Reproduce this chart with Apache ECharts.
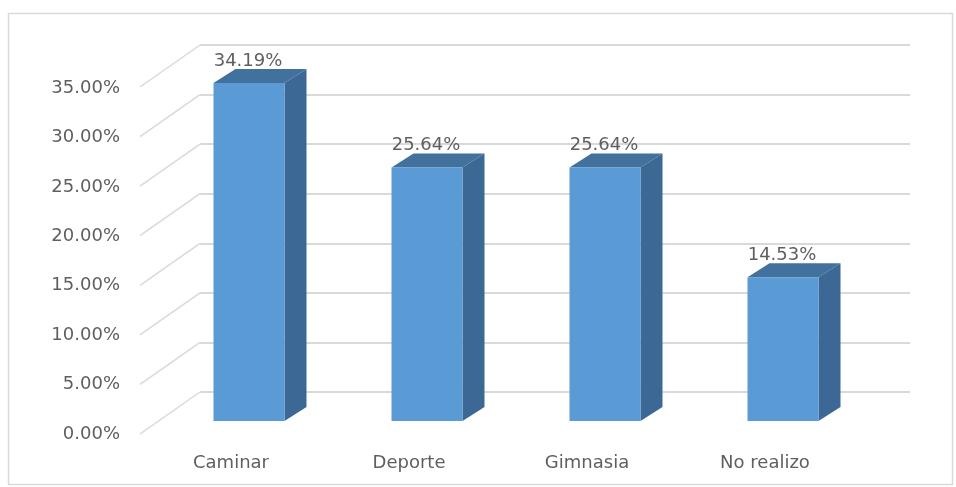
<!DOCTYPE html>
<html>
<head>
<meta charset="utf-8">
<script src="https://cdn.jsdelivr.net/npm/echarts@6/dist/echarts.min.js"></script>
<style>
  html, body { margin: 0; padding: 0; background: #ffffff; }
  #chart { width: 956px; height: 487px; }
</style>
</head>
<body>
<div id="chart"></div>
<script>
// Activity categories and their shares (percent)
const categories = ['Caminar', 'Deporte', 'Gimnasia', 'No realizo'];
const shares = [34.19, 25.64, 25.64, 14.53];
// Value-axis ticks
const ticks = [0, 5, 10, 15, 20, 25, 30, 35];

const FONT = 'DejaVu Sans';
const TEXT = '#5f5f5f';
const GRID = '#d9d9d9';
// depth offsets for the pseudo-3D look
const WALL_DX = 60, WALL_DY = -42;   // floor front edge -> back wall
const BAR_DX = 22, BAR_DY = -14;     // bar front face -> bar back face
const BAR_W = 71;

const chart = echarts.init(document.getElementById('chart'), null, { renderer: 'canvas' });

function renderBar(params, api) {
  const i = api.value(0);
  const v = api.value(1);
  const base = api.coord([i, 0]);
  const top = api.coord([i, v]);
  const x0 = base[0] - BAR_W / 2;
  const x1 = x0 + BAR_W;
  return {
    type: 'group',
    children: [
      {
        type: 'polygon',
        shape: { points: [[x1, top[1]], [x1 + BAR_DX, top[1] + BAR_DY], [x1 + BAR_DX, base[1] + BAR_DY], [x1, base[1]]] },
        style: { fill: '#3b6895' }
      },
      {
        type: 'polygon',
        shape: { points: [[x0, top[1]], [x0 + BAR_DX, top[1] + BAR_DY], [x1 + BAR_DX, top[1] + BAR_DY], [x1, top[1]]] },
        style: { fill: '#41719c' }
      },
      {
        type: 'rect',
        shape: { x: x0, y: top[1], width: BAR_W, height: base[1] - top[1] },
        style: { fill: '#5b9bd5' }
      },
      {
        type: 'text',
        x: base[0] - 1,
        y: top[1] - 22,
        style: {
          text: v.toFixed(2) + '%',
          font: '18px "' + FONT + '"',
          fill: TEXT,
          align: 'center',
          verticalAlign: 'middle'
        }
      }
    ]
  };
}

function renderDiagonal(params, api) {
  const back = api.coord([0, api.value(0)]);
  return {
    type: 'line',
    shape: { x1: back[0] - WALL_DX, y1: back[1] - WALL_DY, x2: back[0], y2: back[1] },
    style: { stroke: GRID, lineWidth: 1.5 }
  };
}

const option = {
  backgroundColor: '#ffffff',
  animation: false,
  graphic: [{
    type: 'rect',
    shape: { x: 8.5, y: 13.5, width: 944, height: 471 },
    style: { fill: 'none', stroke: '#d9d9d9', lineWidth: 1.5 },
    silent: true,
    z: -10
  }],
  grid: [
    // bars
    { left: 160, right: 84, top: 75, bottom: 66 },
    // back wall
    { left: 200, right: 46, top: 45, bottom: 95 },
    // front value labels
    { left: 140, width: 1, top: 88, bottom: 53 }
  ],
  xAxis: [
    {
      gridIndex: 0, type: 'category', data: categories,
      axisLine: { show: false }, axisTick: { show: false },
      axisLabel: {
        margin: 33, fontFamily: FONT, fontSize: 18, color: TEXT,
        padding: [0, 36, 0, 0]
      }
    },
    { gridIndex: 1, type: 'value', min: 0, max: 1, show: false },
    { gridIndex: 2, type: 'value', min: 0, max: 1, show: false }
  ],
  yAxis: [
    { gridIndex: 0, type: 'value', min: 0, max: 35, interval: 5, show: false },
    {
      gridIndex: 1, type: 'value', min: 0, max: 35, interval: 5,
      axisLine: { show: false }, axisTick: { show: false }, axisLabel: { show: false },
      splitLine: { show: true, lineStyle: { color: GRID, width: 2 } }
    },
    {
      gridIndex: 2, type: 'value', min: 0, max: 35, interval: 5,
      axisLine: { show: false }, axisTick: { show: false }, splitLine: { show: false },
      axisLabel: {
        margin: 20, fontFamily: FONT, fontSize: 18, color: TEXT,
        formatter: v => v.toFixed(2) + '%'
      }
    }
  ],
  series: [
    {
      type: 'custom', xAxisIndex: 1, yAxisIndex: 1,
      renderItem: renderDiagonal,
      data: ticks.map(t => [t]),
      encode: { y: 0 },
      z: 1, silent: true
    },
    {
      type: 'custom', xAxisIndex: 0, yAxisIndex: 0,
      renderItem: renderBar,
      data: shares.map((v, i) => [i, v]),
      encode: { x: 0, y: 1 },
      z: 5, silent: true
    }
  ]
};

chart.setOption(option);
</script>
</body>
</html>
